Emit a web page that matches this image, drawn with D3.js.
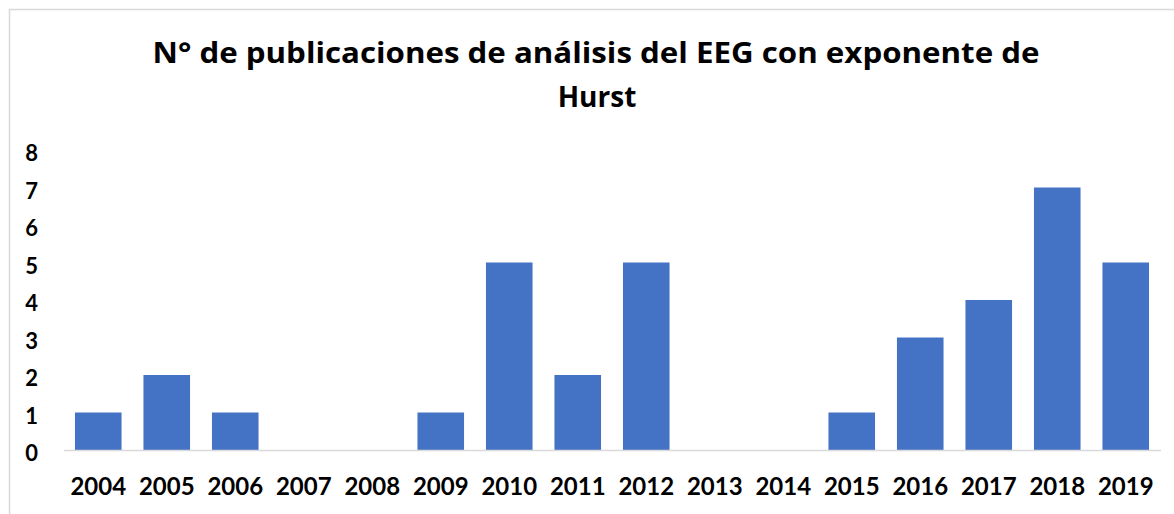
<!DOCTYPE html>
<html><head><meta charset="utf-8">
<script src="https://cdn.jsdelivr.net/npm/d3@7"></script>
<style>body{margin:0;background:#fff}svg{display:block}text{font-family:Lato,"Open Sans",sans-serif;font-weight:bold;fill:#000}</style>
</head><body><svg id="c" width="1174" height="514"></svg>
<script>
const years = ["2004","2005","2006","2007","2008","2009","2010","2011","2012","2013","2014","2015","2016","2017","2018","2019"];
const counts = [1,2,1,0,0,1,5,2,5,0,0,1,3,4,7,5];
const yTicks = [0,1,2,3,4,5,6,7,8];
const titleLines = ["N° de publicaciones de análisis del EEG con exponente de","Hurst"];

const svg = d3.select("#c");
svg.append("rect").attr("x",9.5).attr("y",9.5).attr("width",1200).attr("height",600)
  .attr("fill","none").attr("stroke","#d9d9d9").attr("stroke-width",1.5);

const x = d3.scaleBand().domain(years).range([64,1160]).paddingInner(0.32).paddingOuter(0.16);
const y = d3.scaleLinear().domain([0,8]).range([450,150]);

svg.selectAll("rect.bar").data(counts).enter().append("rect").attr("class","bar")
  .attr("x",(d,i)=>x(years[i])).attr("width",x.bandwidth())
  .attr("y",d=>y(d)).attr("height",d=>y(0)-y(d)).attr("fill","#4472C4");

svg.append("line").attr("x1",64).attr("x2",1161).attr("y1",450.5).attr("y2",450.5)
  .attr("stroke","#d9d9d9").attr("stroke-width",1.5);

svg.selectAll("text.yl").data(yTicks).enter().append("text").attr("class","yl")
  .attr("x",38).attr("y",d=>y(d)+11).attr("text-anchor","end").attr("font-size",22).text(d=>d);

svg.selectAll("text.xl").data(years).enter().append("text").attr("class","xl")
  .attr("x",d=>x(d)+x.bandwidth()/2).attr("y",495).attr("text-anchor","middle").attr("font-size",24).text(d=>d);

svg.append("text").attr("x",596).attr("y",63).attr("text-anchor","middle")
  .style("font-family","'Open Sans',sans-serif").attr("font-size",28)
  .attr("textLength",887).attr("lengthAdjust","spacingAndGlyphs")
  .text(titleLines[0]);
svg.append("text").attr("x",597).attr("y",107).attr("text-anchor","middle")
  .style("font-family","'Open Sans',sans-serif").attr("font-size",28)
  .text(titleLines[1]);
</script></body></html>
